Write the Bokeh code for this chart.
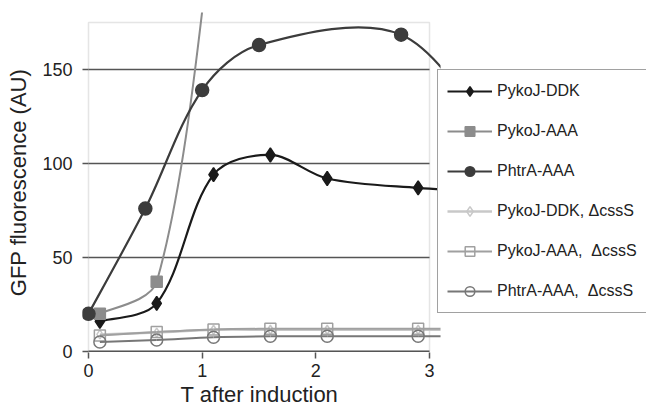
import math
from bokeh.plotting import figure
from bokeh.models import (Range1d, FixedTicker, BoxAnnotation, Legend, LegendItem, Title)
from bokeh.embed import file_html
from bokeh.resources import INLINE

# ---------------- data ----------------
t_pyko = [0.1, 0.6, 1.1, 1.6, 2.1, 2.9, 3.6]
pykoj_ddk = [16, 25.5, 94, 104.5, 92, 87, 85]

t_pyko_aaa = [0.1, 0.6, 1.1]
pykoj_aaa = [20, 37, 230]

t_phtr = [0.0, 0.5, 1.0, 1.5, 2.75, 3.6]
phtra_aaa = [20, 76, 139, 163, 168.5, 110]

t_mut = [0.1, 0.6, 1.1, 1.6, 2.1, 2.9, 3.6]
pykoj_ddk_cssS = [9, 10, 11.5, 11.5, 11.5, 11.5, 11.5]
pykoj_aaa_cssS = [8.5, 10.3, 11.7, 12, 12, 12, 12]
phtra_aaa_cssS = [5, 6, 7.5, 8, 8, 8, 8]

x_ticks = [0, 1, 2, 3]
y_ticks = [0, 50, 100, 150]

labels = ["PykoJ-DDK", "PykoJ-AAA", "PhtrA-AAA",
          "PykoJ-DDK, \u0394cssS", "PykoJ-AAA,  \u0394cssS", "PhtrA-AAA,  \u0394cssS"]
x_title = "T after induction"
y_title = "GFP fluorescence (AU)"

FONT = "Liberation Sans"
TXT = "#222222"

# pixel scale of the plot (used only for smoothing the curves)
SX, SY = 113.67, 1.88
X_END_VISIBLE = 3.097   # the chart's drawing area ends a little right of x = 3


def smooth(xs, ys):
    """Bezier control points for a smoothed line through the data points."""
    n = len(xs)
    d = [math.hypot((xs[i + 1] - xs[i]) * SX, (ys[i + 1] - ys[i]) * SY) for i in range(n - 1)]
    o = dict(x0=[], y0=[], x1=[], y1=[], cx0=[], cy0=[], cx1=[], cy1=[])
    for i in range(n - 1):
        if i == 0:
            cx0 = xs[0] + (xs[1] - xs[0]) / 6
            cy0 = ys[0] + (ys[1] - ys[0]) / 6
        else:
            f = d[i] / (d[i - 1] + d[i]) / 3
            cx0 = xs[i] + (xs[i + 1] - xs[i - 1]) * f
            cy0 = ys[i] + (ys[i + 1] - ys[i - 1]) * f
        if i + 1 == n - 1:
            cx1 = xs[i + 1] - (xs[i + 1] - xs[i]) / 6
            cy1 = ys[i + 1] - (ys[i + 1] - ys[i]) / 6
        else:
            f = d[i] / (d[i] + d[i + 1]) / 3
            cx1 = xs[i + 1] - (xs[i + 2] - xs[i]) * f
            cy1 = ys[i + 1] - (ys[i + 2] - ys[i]) * f
        o["x0"].append(xs[i]); o["y0"].append(ys[i])
        o["x1"].append(xs[i + 1]); o["y1"].append(ys[i + 1])
        o["cx0"].append(cx0); o["cy0"].append(cy0)
        o["cx1"].append(cx1); o["cy1"].append(cy1)
    return o


p = figure(width=646, height=408, output_backend="svg", toolbar_location=None,
           x_range=Range1d(-0.0528, 4.9089), y_range=Range1d(-0.6, 180.3),
           min_border_left=82, min_border_right=0, min_border_top=12, min_border_bottom=56)
p.outline_line_color = None
p.background_fill_color = "white"
p.border_fill_color = "white"
p.xgrid.visible = False
p.ygrid.visible = False

# plot-area frame
p.add_layout(BoxAnnotation(left=0, right=3, bottom=0, top=175, fill_alpha=0,
                           line_color="#a8a8a8", line_width=1.5, level="underlay"))
# horizontal gridlines (and bottom axis line)
p.segment(x0=[0] * len(y_ticks), x1=[3] * len(y_ticks), y0=y_ticks, y1=y_ticks,
          line_color="#555555", line_width=1.5)

# axes
p.xaxis.ticker = FixedTicker(ticks=x_ticks)
p.yaxis.ticker = FixedTicker(ticks=y_ticks)
p.yaxis.axis_label = y_title
for ax in (p.xaxis[0], p.yaxis[0]):
    ax.axis_line_color = None
    ax.major_tick_line_color = "#555555"
    ax.major_tick_line_width = 1.5
    ax.minor_tick_line_color = None
    ax.major_label_text_font = FONT
    ax.major_label_text_font_size = "18px"
    ax.major_label_text_color = TXT
    ax.axis_label_text_font = FONT
    ax.axis_label_text_font_size = "22px"
    ax.axis_label_text_font_style = "normal"
    ax.axis_label_text_color = TXT
p.xaxis.major_tick_out = 6
p.xaxis.major_tick_in = 0
p.xaxis.major_label_standoff = 5
p.yaxis.major_tick_out = 0
p.yaxis.major_tick_in = 6
p.yaxis.major_label_standoff = 10
p.yaxis.axis_label_standoff = 8

# x-axis title, centred under the 0..3 box rather than the whole drawing area
p.add_layout(Title(text=x_title, align="left", offset=98, standoff=0,
                   text_font=FONT, text_font_size="22px", text_font_style="normal",
                   text_color=TXT), "below")

series = [
    (t_pyko, pykoj_ddk, "#1a1a1a", 2.2, dict(marker="diamond", size=14, fill_color="#1a1a1a")),
    (t_pyko_aaa, pykoj_aaa, "#8c8c8c", 2.0, dict(marker="square", size=11, fill_color="#8c8c8c")),
    (t_phtr, phtra_aaa, "#3c3c3c", 2.2, dict(marker="circle", size=13, fill_color="#3c3c3c")),
    (t_mut, pykoj_ddk_cssS, "#c8c8c8", 2.5, dict(marker="diamond", size=9, fill_color=None)),
    (t_mut, pykoj_aaa_cssS, "#a0a0a0", 2.0, dict(marker="square", size=11, fill_color=None)),
    (t_mut, phtra_aaa_cssS, "#777777", 2.0, dict(marker="circle", size=12, fill_color=None)),
]

items = []
for (xs, ys, col, lw, mk), lab in zip(series, labels):
    b = smooth(xs, ys)
    bz = p.bezier(x0=b["x0"], y0=b["y0"], x1=b["x1"], y1=b["y1"],
                  cx0=b["cx0"], cy0=b["cy0"], cx1=b["cx1"], cy1=b["cy1"],
                  line_color=col, line_width=lw)
    leg_line = p.line(x=[float("nan")], y=[float("nan")], line_color=col, line_width=lw)
    sc = p.scatter(x=xs, y=ys, line_color=col, line_width=1.5, **mk)
    items.append(LegendItem(label=lab, renderers=[leg_line, sc]))

# white mask: the original drawing area stops just right of x = 3
p.add_layout(BoxAnnotation(left=X_END_VISIBLE, fill_color="white", fill_alpha=1.0,
                           line_color=None))

legend = Legend(items=items, location=(355, 39), orientation="vertical",
                glyph_width=45, glyph_height=24, label_height=24, label_standoff=5,
                spacing=16, padding=9, margin=0,
                label_text_font=FONT, label_text_font_size="16px", label_text_color=TXT,
                border_line_color="#444444", border_line_width=1.5,
                background_fill_color="white", background_fill_alpha=1.0)
p.add_layout(legend, "center")

open("out.html", "w").write(file_html(p, INLINE))
